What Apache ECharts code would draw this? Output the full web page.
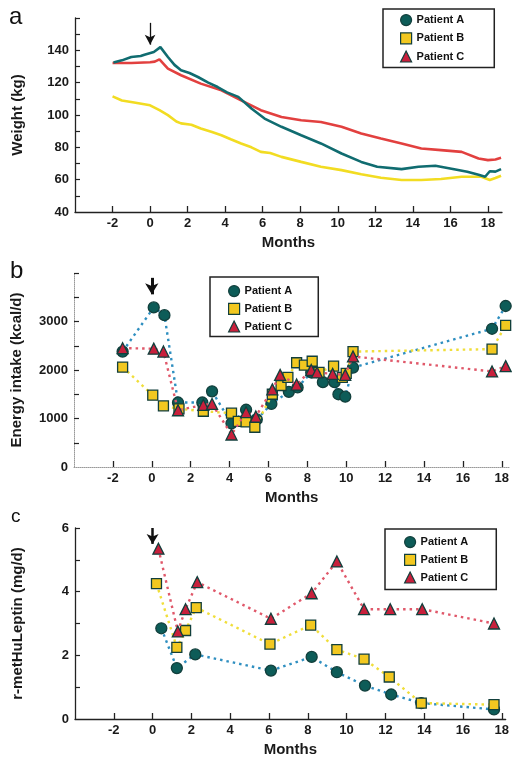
<!DOCTYPE html>
<html>
<head>
<meta charset="utf-8">
<script src="https://cdn.jsdelivr.net/npm/echarts@6/dist/echarts.min.js"></script>
<style>
  html, body { margin: 0; padding: 0; background: #fff; }
  #main { width: 512px; height: 762px; }
</style>
</head>
<body>
<div id="main"></div>
<script>
// tick labels on the month axes
const monthTicks = [-2, 0, 2, 4, 6, 8, 10, 12, 14, 16, 18];
const weightTicks = [40, 60, 80, 100, 120, 140];
const energyTicks = [0, 1000, 2000, 3000];
const leptinTicks = [0, 2, 4, 6];
const patients = ['Patient A', 'Patient B', 'Patient C'];

// panel a: body weight (kg)
const weightMonthsA = [-1.95, -1.5, -1.0, -0.5, -0.3, 0.2, 0.55, 0.95, 1.3, 1.65, 2.1, 2.55, 3.1, 3.6, 4.1, 4.7, 5.4, 6.1, 7.0, 8.05, 9.1, 10.2, 11.25, 12.1, 13.4, 14.3, 15.2, 16.2, 16.9, 17.5, 17.85, 18.1, 18.4, 18.7];
const weightA = [132.5, 133.8, 135.9, 136.5, 137.3, 139, 142, 135.9, 131, 127.7, 126, 123.5, 120, 117.3, 114, 111.2, 104, 97.8, 92.7, 87.5, 82.4, 76.2, 71, 68, 66.5, 68, 68.6, 66.5, 64.9, 63, 61.8, 65.2, 65, 66.5];
const weightMonthsB = [-2, -1.5, -0.85, 0, 0.5, 0.95, 1.4, 1.65, 2.2, 2.7, 3.3, 3.8, 4.3, 4.85, 5.4, 5.9, 6.4, 7.0, 8.05, 9.1, 10.2, 11.25, 12.3, 13.4, 14.45, 15.5, 16.6, 17.65, 18.1, 18.4, 18.7];
const weightB = [111.5, 109, 107.7, 106, 103, 99.9, 96, 94.8, 94, 91.7, 89.5, 87.5, 85, 82.4, 80, 77.2, 76.5, 74.1, 71, 68, 65.9, 63.3, 61.2, 59.8, 59.8, 60.4, 61.8, 61.8, 59.8, 61, 62.4];
const weightMonthsC = [-2, -1, 0, 0.25, 0.5, 0.95, 1.65, 2.7, 3.8, 4.85, 5.9, 7.0, 8.05, 9.1, 10.2, 11.25, 12.3, 13.4, 14.45, 15.5, 16.6, 17.5, 18.0, 18.4, 18.7];
const weightC = [132.2, 132.2, 132.6, 133, 134.4, 128.7, 124.6, 119.4, 115.3, 109.1, 103, 98.8, 96.8, 95.7, 92.7, 88.6, 85.5, 82.4, 79.3, 78.3, 77.2, 73.1, 72.1, 72.5, 73.5];

// panel b: energy intake (kcal/d)
const energyMonthsA = [-1.5, 0.1, 0.65, 1.35, 2.6, 3.1, 4.1, 4.85, 5.4, 6.15, 7.05, 7.5, 8.2, 8.8, 9.4, 9.6, 9.95, 10.35, 17.5, 18.2];
const energyA = [2380, 3290, 3130, 1330, 1330, 1560, 900, 1180, 980, 1300, 1550, 1640, 1950, 1750, 1750, 1500, 1450, 2050, 2850, 3320];
const energyMonthsB = [-1.5, 0.05, 0.6, 1.4, 2.65, 4.1, 4.45, 4.85, 5.3, 6.2, 6.65, 7.0, 7.45, 7.85, 8.25, 8.6, 9.35, 9.8, 10.0, 10.35, 17.5, 18.2];
const energyB = [2060, 1480, 1260, 1200, 1150, 1110, 940, 930, 820, 1500, 1680, 1850, 2150, 2100, 2180, 1950, 2080, 1850, 1930, 2380, 2430, 2920];
const energyMonthsC = [-1.5, 0.1, 0.6, 1.35, 2.65, 3.1, 4.1, 4.85, 5.35, 6.2, 6.6, 7.45, 8.2, 8.5, 9.3, 9.95, 10.35, 17.5, 18.2];
const energyC = [2450, 2440, 2380, 1170, 1280, 1300, 670, 1130, 1040, 1600, 1900, 1700, 2000, 1950, 1920, 1900, 2280, 1970, 2080];

// panel c: r-metHuLeptin (mg/d)
const leptinMonthsA = [0.45, 1.25, 2.2, 6.1, 8.2, 9.5, 10.95, 12.3, 13.85, 17.6];
const leptinA = [2.85, 1.6, 2.03, 1.52, 1.95, 1.47, 1.05, 0.77, 0.5, 0.3];
const leptinMonthsB = [0.2, 1.25, 1.7, 2.25, 6.05, 8.15, 9.5, 10.9, 12.2, 13.85, 17.6];
const leptinB = [4.25, 2.25, 2.78, 3.5, 2.35, 2.95, 2.18, 1.88, 1.32, 0.5, 0.45];
const leptinMonthsC = [0.3, 1.3, 1.7, 2.3, 6.1, 8.2, 9.5, 10.9, 12.25, 13.9, 17.6];
const leptinC = [5.35, 2.75, 3.45, 4.3, 3.15, 3.95, 4.95, 3.45, 3.45, 3.45, 3.0];

const lineColors = ['#106c70', '#f2dc22', '#e2403f'];
const dotColors = ['#2f8fc0', '#f0de3a', '#e0586a'];
const fillColors = ['#0d5c58', '#f2c820', '#c8203c'];
const shapes = ['circle', 'rect', 'triangle'];
const edge = '#123f3c';
const font = 'Liberation Sans';

function pairs(xs, ys) {
    return xs.map(function (x, i) { return [x, ys[i]]; });
}

let myChart = echarts.init(document.getElementById('main'));

function xAxisFor(idx, max, dotted) {
    return {
        type: 'value', gridIndex: idx, min: -4, max: max,
        name: 'Months', nameLocation: 'middle', nameGap: 23,
        nameTextStyle: { fontFamily: font, fontSize: 15, fontWeight: 'bold', color: '#1a1a1a' },
        axisLine: { onZero: false, lineStyle: { color: dotted ? '#999' : '#222', width: dotted ? 1 : 1.3, type: dotted ? 'dotted' : 'solid' } },
        axisTick: { inside: true, length: 6, customValues: monthTicks, lineStyle: { color: '#222', width: 1.3 } },
        axisLabel: { customValues: monthTicks, margin: 5, fontFamily: font, fontSize: 13, fontWeight: 'bold', color: '#1a1a1a',
            formatter: function (v) { return String(v); } },
        splitLine: { show: false }
    };
}

function yAxisFor(idx, min, max, tickStep, labels, title, dotted) {
    let tickVals = [];
    for (let v = min + tickStep; v < max + tickStep / 2; v += tickStep) tickVals.push(v);
    return {
        type: 'value', gridIndex: idx, min: min, max: max,
        name: title, nameLocation: 'middle', nameGap: 50, nameRotate: 90,
        nameTextStyle: { fontFamily: font, fontSize: 15, fontWeight: 'bold', color: '#1a1a1a' },
        axisLine: { show: true, onZero: false, lineStyle: { color: dotted ? '#999' : '#222', width: dotted ? 1 : 1.3, type: dotted ? 'dotted' : 'solid' } },
        axisTick: { show: true, inside: true, length: 5, customValues: tickVals, lineStyle: { color: '#222', width: 1.2 } },
        axisLabel: { customValues: labels, margin: 6, fontFamily: font, fontSize: 13, fontWeight: 'bold', color: '#1a1a1a',
            formatter: function (v) { return String(v); } },
        splitLine: { show: false }
    };
}

function legendFor(left, top, padding, gap) {
    return {
        left: left, top: top, orient: 'vertical',
        padding: padding, itemGap: gap, itemWidth: 11, itemHeight: 11, itemTextGap: 5,
        borderColor: '#222', borderWidth: 1.5,
        selectedMode: false,
        textStyle: { fontFamily: font, fontSize: 11, fontWeight: 'bold', color: '#111' },
        data: patients.map(function (p, i) {
            return { name: p, icon: shapes[i], itemStyle: { color: fillColors[i], borderColor: edge, borderWidth: 1.2 } };
        })
    };
}

// the arrow that marks the start of treatment
function arrow(from, to, width, head) {
    return {
        silent: true, symbol: ['none', 'arrow'], symbolSize: head,
        label: { show: false },
        lineStyle: { color: '#111', width: width, type: 'solid' },
        data: [[{ coord: from }, { coord: to }]]
    };
}

let series = [];
// weight curves
[[weightMonthsA, weightA], [weightMonthsB, weightB], [weightMonthsC, weightC]].forEach(function (d, i) {
    series.push({
        name: patients[i], type: 'line', xAxisIndex: 0, yAxisIndex: 0,
        data: pairs(d[0], d[1]), showSymbol: false, symbol: shapes[i],
        lineStyle: { color: lineColors[i], width: 2.6 }, itemStyle: { color: fillColors[i] },
        z: i === 1 ? 2 : (i === 0 ? 4 : 3),
        markLine: i === 0 ? arrow([0, 157], [0, 143.5], 1.3, [8, 10]) : undefined
    });
});
// energy intake and leptin dose
[[[energyMonthsA, energyA], [energyMonthsB, energyB], [energyMonthsC, energyC]],
 [[leptinMonthsA, leptinA], [leptinMonthsB, leptinB], [leptinMonthsC, leptinC]]].forEach(function (panel, k) {
    panel.forEach(function (d, i) {
        let mark;
        if (i === 0) mark = k === 0 ? arrow([0, 3900], [0, 3560], 3, [10, 11]) : arrow([0, 6], [0, 5.5], 2.5, [9, 10]);
        series.push({
            name: patients[i], type: 'line', xAxisIndex: k + 1, yAxisIndex: k + 1,
            data: pairs(d[0], d[1]), symbol: shapes[i], symbolSize: i === 1 ? 10 : 11,
            clip: k === 0,
            lineStyle: { color: dotColors[i], width: 2.4, type: [2.5, 4] },
            itemStyle: { color: fillColors[i], borderColor: edge, borderWidth: 1.3 },
            z: 3 + i,
            markLine: mark
        });
    });
});

let option = {
    animation: false,
    backgroundColor: '#fff',
    title: [
        { text: 'a', left: 4, top: 0, textStyle: { fontFamily: font, fontSize: 24, fontWeight: 'normal', color: '#111' } },
        { text: 'b', left: 5, top: 254, textStyle: { fontFamily: font, fontSize: 24, fontWeight: 'normal', color: '#111' } },
        { text: 'c', left: 6, top: 502, textStyle: { fontFamily: font, fontSize: 19, fontWeight: 'normal', color: '#111' } }
    ],
    legend: [
        legendFor(383, 9, [5, 30, 5, 17], 6),
        legendFor(210, 277, [8, 26, 4, 18], 5.5),
        legendFor(385, 529, [7, 28, 6, 19], 5.5)
    ],
    grid: [
        { left: 75, top: 18, width: 427, height: 194 },
        { left: 74, top: 273, width: 439, height: 194 },
        { left: 75, top: 528, width: 433, height: 191 }
    ],
    xAxis: [
        xAxisFor(0, 18.75, false),
        xAxisFor(1, 18.4, true),
        xAxisFor(2, 18.2, false)
    ],
    yAxis: [
        yAxisFor(0, 40, 160, 10, weightTicks, 'Weight (kg)', false),
        yAxisFor(1, 0, 4000, 500, energyTicks, 'Energy intake (kcal/d)', true),
        yAxisFor(2, 0, 6, 1, leptinTicks, 'r-metHuLeptin (mg/d)', false)
    ],
    series: series
};

myChart.setOption(option);
</script>
</body>
</html>
